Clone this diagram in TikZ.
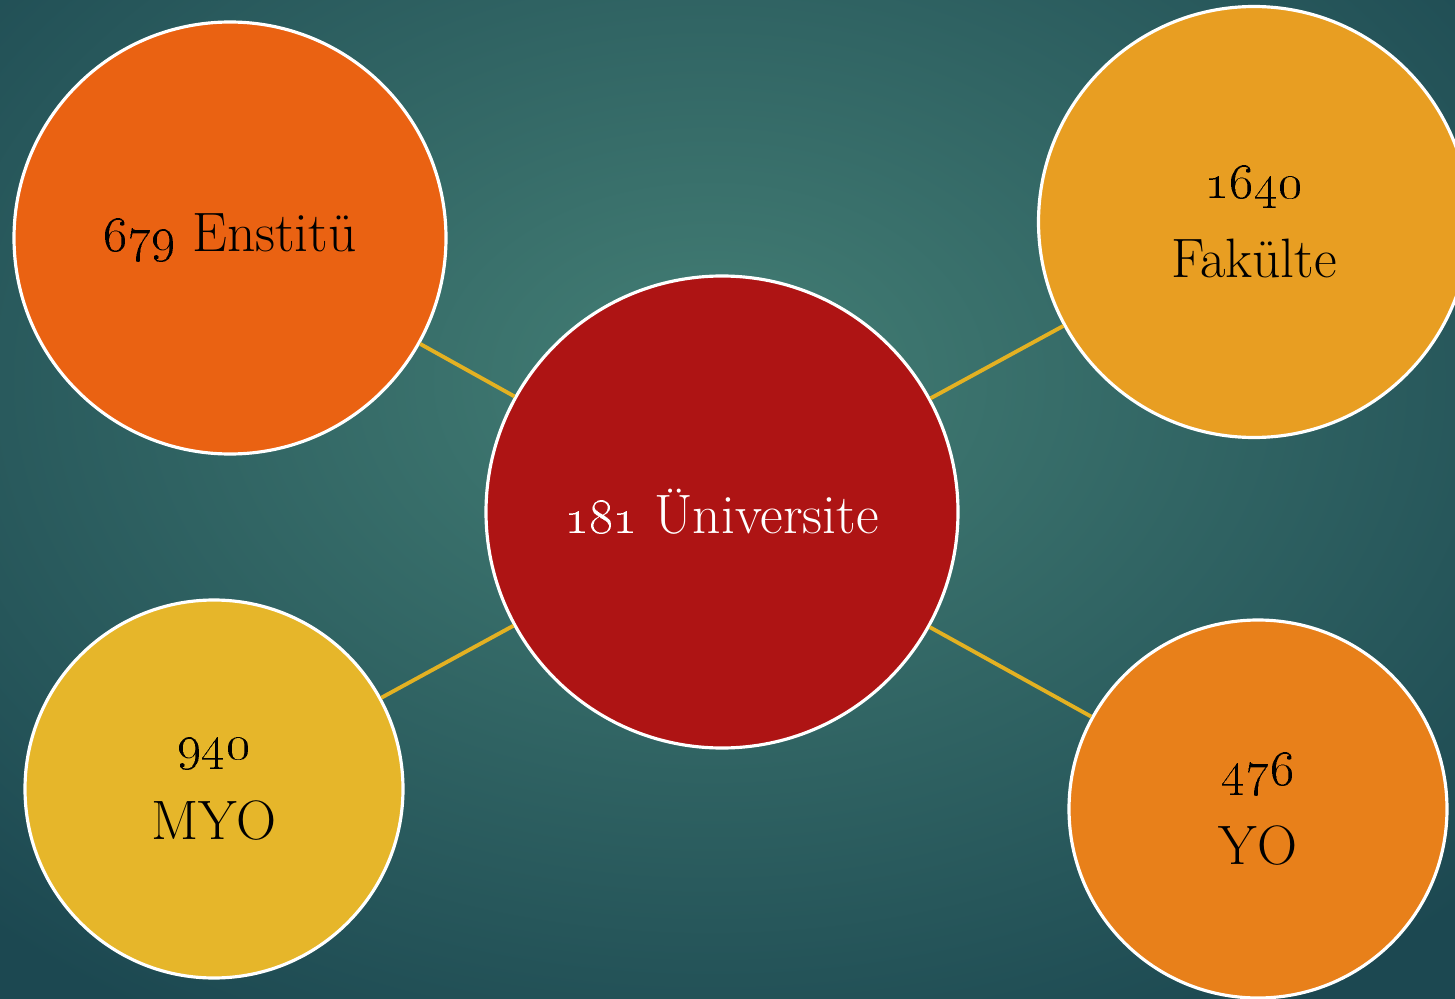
\documentclass[tikz,border=0pt]{standalone}
\definecolor{bgin}{HTML}{447F75}
\definecolor{bgout}{HTML}{1C4851}
\definecolor{unired}{HTML}{AE1414}
\definecolor{enstorange}{HTML}{EA6212}
\definecolor{fakorange}{HTML}{E89E22}
\definecolor{myoyellow}{HTML}{E6B62A}
\definecolor{yoorange}{HTML}{E8801A}
\definecolor{linkgold}{HTML}{E3B122}
\tikzset{
  bubble/.style={circle, draw=white, line width=0.9pt, align=center, inner sep=0pt,
    font=\fontsize{15.8}{22.5}\selectfont},
  link/.style={linkgold, line width=1.1pt}
}
\begin{document}
\begin{tikzpicture}
  \useasboundingbox (0,0) rectangle (14.55,-9.99);
  \clip (0,0) rectangle (14.55,-9.99);
  \shade[inner color=bgin, outer color=bgout] (-3.4,3.7) rectangle (17.6,-11.3);
  % circles
  \node[bubble, fill=unired, text=white, minimum size=4.72cm] (uni) at (7.22,-5.12) {\oldstylenums{181} Üniversite};
  \node[bubble, fill=enstorange, minimum size=4.32cm] (enst) at (2.30,-2.38) {\oldstylenums{679} Enstitü};
  \node[bubble, fill=fakorange, minimum size=4.31cm] (fak) at (12.54,-2.22) {\oldstylenums{1640}\\Fakülte};
  \node[bubble, fill=myoyellow, minimum size=3.78cm] (myo) at (2.14,-7.89) {\oldstylenums{940}\\MYO};
  \node[bubble, fill=yoorange, minimum size=3.78cm] (yo) at (12.58,-8.09) {\oldstylenums{476}\\YO};
  % links
  \draw[link] (enst) -- (uni);
  \draw[link] (fak) -- (uni);
  \draw[link] (myo) -- (uni);
  \draw[link] (yo) -- (uni);
\end{tikzpicture}
\end{document}
